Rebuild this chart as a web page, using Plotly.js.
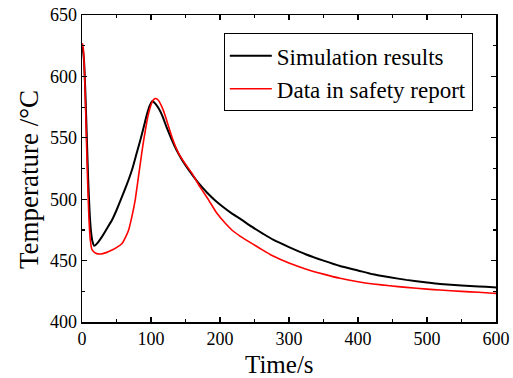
<!DOCTYPE html>
<html>
<head>
<meta charset="utf-8">
<script src="https://cdn.plot.ly/plotly-3.0.1.min.js"></script>
<style>html,body{margin:0;padding:0;background:#fff;}#chart{width:513px;height:378px;}</style>
</head>
<body>
<div id="chart"></div>
<script>
const simTime = [1,3,5,7,9,11,13,15,18,22,29,36,43.5,50,58,65,72.5,79,84.5,90,94,98,102,106,111,116,123,130,137,145,157,169,181,193,205,217,229,246,262,277,300,325,350,374,400,422,446,470,500,519,550,575,596,600];
const simTemp = [624,612,585,550,515,490,474,466,462,464,469.5,476,483,491,502,512,524,537,548,560,569,576,580,578,574,568.5,558,548.5,540,532,522,513,505.5,499,493.5,488.5,484.2,477.6,472,467,461,455,450,445.6,442,438.8,436.4,434.3,432.2,431,429.8,429,428.2,428];

const repTime = [0.5,2,4,6,8,10,12,14.5,20,26.6,35,43.5,51,58,63,67.6,72,77,81,84.5,88,91.8,95,99,103,106.3,110,116,120,125.6,132,140,150,159.4,171,183.6,195,207.7,218,229,246,262,277,300,325,350,374,400,422,446,470,500,519,550,575,596,600];
const repTemp = [627,622,597,557,517,485,467,459,456,455.4,456.5,458.6,461,464,469,475,485,499,515,529,543,556,566,575,580.5,582,581,575,569,559,548,537.4,528.5,521,510,499.3,489,480.4,474.5,470,464,458.5,453.7,448,443,439,435.6,432.8,431,429.5,428.2,426.8,426,424.9,424.2,423.4,423.3];

const seriesNames = ["Simulation results", "Data in safety report"];
const xTitle = "Time/s";
const yTitle = "Temperature /°C";

const serif = "'Liberation Serif', 'Times New Roman', serif";

const traces = [
  {x: simTime, y: simTemp, name: seriesNames[0], mode: "lines",
   line: {color: "#000000", width: 2, shape: "spline", smoothing: 0.5}},
  {x: repTime, y: repTemp, name: seriesNames[1], mode: "lines",
   line: {color: "#ff0000", width: 1.6, shape: "spline", smoothing: 0.5}}
];

const axisCommon = {
  showgrid: false, zeroline: false,
  showline: true, linecolor: "#000", linewidth: 1.5,
  mirror: "ticks", ticks: "inside", ticklen: 5, tickwidth: 1.2, tickcolor: "#000",
  tickfont: {family: serif, size: 18, color: "#000"}
};

const layout = {
  width: 513, height: 378,
  margin: {l: 82, r: 17, t: 15, b: 56},
  paper_bgcolor: "#fff", plot_bgcolor: "#fff",
  font: {family: serif, color: "#000"},
  showlegend: true,
  legend: {
    x: 0.944, xanchor: "right", y: 0.94, yanchor: "top",
    bordercolor: "#000", borderwidth: 1, bgcolor: "#fff",
    font: {family: serif, size: 23, color: "#000"},
    itemwidth: 42,
    tracegroupgap: 0
  },
  xaxis: Object.assign({}, axisCommon, {
    range: [0, 600], dtick: 100, tick0: 0,
    minor: {dtick: 50, ticks: "inside", ticklen: 3, tickcolor: "#000"}
  }),
  yaxis: Object.assign({}, axisCommon, {
    range: [400, 650], dtick: 50, tick0: 400,
    minor: {dtick: 25, ticks: "inside", ticklen: 3, tickcolor: "#000"}
  }),
  annotations: [
    {text: xTitle, xref: "paper", yref: "paper", x: 0.478, y: -0.137,
     xanchor: "center", yanchor: "middle", showarrow: false, borderpad: 0,
     font: {family: serif, size: 25, color: "#000"}},
    {text: yTitle, xref: "paper", yref: "paper", x: -0.128, y: 0.4625,
     xanchor: "center", yanchor: "middle", showarrow: false, textangle: -90,
     font: {family: serif, size: 27, color: "#000"}}
  ]
};

Plotly.newPlot("chart", traces, layout, {displayModeBar: false, staticPlot: true});
</script>
</body>
</html>
